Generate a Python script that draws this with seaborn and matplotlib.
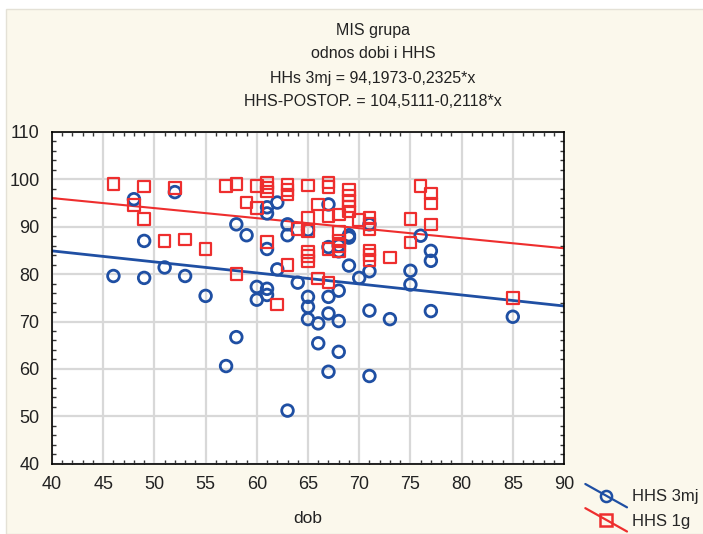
import numpy as np
import pandas as pd
import seaborn as sns
import matplotlib.pyplot as plt
from matplotlib.lines import Line2D
from matplotlib.patches import Rectangle
from matplotlib.legend_handler import HandlerBase
from matplotlib.ticker import MultipleLocator

# HHS 3mj (blue circles): age, score
dob_3mj = [46, 48, 49, 49, 51, 52, 53, 55, 57, 58, 58, 59, 60, 60, 61, 61, 61, 61, 61,
           62, 62, 63, 63, 63, 64, 65, 65, 65, 65, 66, 66, 67, 67, 67, 67, 67, 68, 68,
           68, 68, 68, 69, 69, 69, 70, 71, 71, 71, 71, 73, 75, 75, 76, 77, 77, 77, 85]
hhs_3mj = [79.6, 95.8, 87.0, 79.2, 81.4, 97.3, 79.6, 75.4, 60.6, 90.5, 66.7, 88.2, 77.3,
           74.6, 94.1, 92.8, 85.3, 76.9, 75.6, 95.1, 81.0, 90.5, 88.2, 51.2, 78.2, 89.3,
           75.2, 73.1, 70.5, 69.6, 65.4, 94.7, 85.7, 75.2, 71.7, 59.4, 86.0, 84.8, 76.5,
           70.1, 63.6, 88.2, 87.7, 81.8, 79.2, 90.5, 80.6, 72.3, 58.5, 70.5, 80.7, 77.8,
           88.1, 84.9, 82.8, 72.2, 71.0]

# HHS 1g (red squares)
dob_1g = [46, 48, 49, 49, 51, 52, 53, 55, 57, 58, 58, 59, 60, 60, 61, 61, 61, 61, 62,
          63, 63, 63, 63, 64, 65, 65, 65, 65, 65, 65, 66, 66, 67, 67, 67, 67, 67, 68,
          68, 68, 68, 68, 69, 69, 69, 69, 69, 70, 71, 71, 71, 71, 71, 71, 73, 75, 75,
          76, 77, 77, 77, 85]
hhs_1g = [99.0, 94.6, 98.5, 91.6, 87.0, 98.1, 87.3, 85.3, 98.6, 99.0, 80.0, 95.1, 98.6,
          93.9, 99.2, 98.3, 97.4, 86.8, 73.6, 98.8, 97.7, 96.8, 81.9, 89.5, 98.7, 91.9,
          89.1, 84.7, 83.8, 82.8, 94.7, 79.1, 99.3, 98.4, 92.3, 85.3, 78.2, 92.6, 88.9,
          87.0, 85.9, 84.9, 97.8, 96.6, 95.4, 94.3, 93.2, 91.4, 91.8, 90.6, 89.5, 85.0,
          84.0, 83.0, 83.5, 91.6, 86.7, 98.6, 97.0, 94.9, 90.5, 74.9]

# regression lines printed in the header
fit_3mj = (94.1973, -0.2325)
fit_1g = (104.5111, -0.2118)
x_range = [40, 90]

BLUE = '#1f4fa3'
RED = '#ee2e2e'

df = pd.concat([
    pd.DataFrame({'dob': dob_3mj, 'hhs': hhs_3mj, 'serija': 'HHS 3mj'}),
    pd.DataFrame({'dob': dob_1g, 'hhs': hhs_1g, 'serija': 'HHS 1g'}),
])
lines = pd.concat([
    pd.DataFrame({'dob': x_range, 'hhs': [fit_3mj[0] + fit_3mj[1] * x for x in x_range], 'serija': 'HHS 3mj'}),
    pd.DataFrame({'dob': x_range, 'hhs': [fit_1g[0] + fit_1g[1] * x for x in x_range], 'serija': 'HHS 1g'}),
])

sns.set_style('white')
plt.rcParams['font.family'] = ['Liberation Sans', 'DejaVu Sans']

fig = plt.figure(figsize=(7.03, 5.34), dpi=100, facecolor='white')
fig.patches.append(Rectangle((6 / 703, 0), 1, 1 - 9 / 534, transform=fig.transFigure,
                             facecolor='#fbf8ec', edgecolor='#e4e1d6', lw=1, zorder=-10))
ax = fig.add_axes([52 / 703, 1 - 463.7 / 534, 512 / 703, 331.8 / 534])
ax.set_facecolor('white')

ax.grid(True, color='#d8d8d8', lw=1.6, zorder=0)
ax.set_axisbelow(True)

sns.lineplot(data=lines, x='dob', y='hhs', hue='serija', palette={'HHS 3mj': BLUE, 'HHS 1g': RED},
             legend=False, ax=ax, zorder=2)
ax.lines[0].set_linewidth(2.0)
ax.lines[1].set_linewidth(1.5)

sns.scatterplot(data=df[df.serija == 'HHS 3mj'], x='dob', y='hhs', marker='o', s=70,
                facecolor='none', edgecolor=BLUE, linewidth=2.0, legend=False, ax=ax, zorder=3)
sns.scatterplot(data=df[df.serija == 'HHS 1g'], x='dob', y='hhs', marker='s', s=70,
                facecolor='none', edgecolor=RED, linewidth=1.6, legend=False, ax=ax, zorder=4)

ax.set_xlim(40, 90)
ax.set_ylim(40, 110)
ax.xaxis.set_major_locator(MultipleLocator(5))
ax.yaxis.set_major_locator(MultipleLocator(10))
ax.xaxis.set_minor_locator(MultipleLocator(1))
ax.yaxis.set_minor_locator(MultipleLocator(2))
ax.tick_params(which='major', direction='in', length=0, labelsize=13, colors='#222222', pad=9)
ax.tick_params(which='minor', direction='in', length=3, width=1, color='#333333',
               top=True, right=True, bottom=True, left=True)
for s in ax.spines.values():
    s.set_color('black')
    s.set_linewidth(1.2)

ax.set_xlabel('dob', fontsize=12.5, labelpad=13, color='#222222')
ax.set_ylabel('')

for y, t in [(30, 'MIS grupa'), (53, 'odnos dobi i HHS'),
             (79, 'HHs 3mj = 94,1973-0,2325*x'), (102, 'HHS-POSTOP. = 104,5111-0,2118*x')]:
    fig.text(373 / 703, 1 - y / 534, t, ha='center', va='center', fontsize=11.5,
             color='#222222')


class DiagHandler(HandlerBase):
    def create_artists(self, legend, orig, xd, yd, w, h, fontsize, trans):
        x0, y0 = -xd, -yd
        ln = Line2D([x0, x0 + w], [y0 + h * 1.5, y0 - h * 0.5], color=orig.get_markeredgecolor(),
                    lw=1.6, transform=trans)
        mk = Line2D([x0 + w / 2], [y0 + h / 2], marker=orig.get_marker(), ms=8, mfc='none',
                    mec=orig.get_markeredgecolor(), mew=1.8, ls='none', transform=trans)
        return [ln, mk]


handles = [Line2D([], [], marker='o', mec=BLUE, ls='none'),
           Line2D([], [], marker='s', mec=RED, ls='none')]
fig.legend(handles, ['HHS 3mj', 'HHS 1g'], handler_map={Line2D: DiagHandler()},
           loc='lower left', bbox_to_anchor=(582 / 703, 2 / 534), frameon=False,
           borderaxespad=0, borderpad=0.2, fontsize=12, handlelength=2.5,
           labelspacing=0.55, handletextpad=0.3)

fig.savefig('out.png', dpi=100, facecolor=fig.get_facecolor())
